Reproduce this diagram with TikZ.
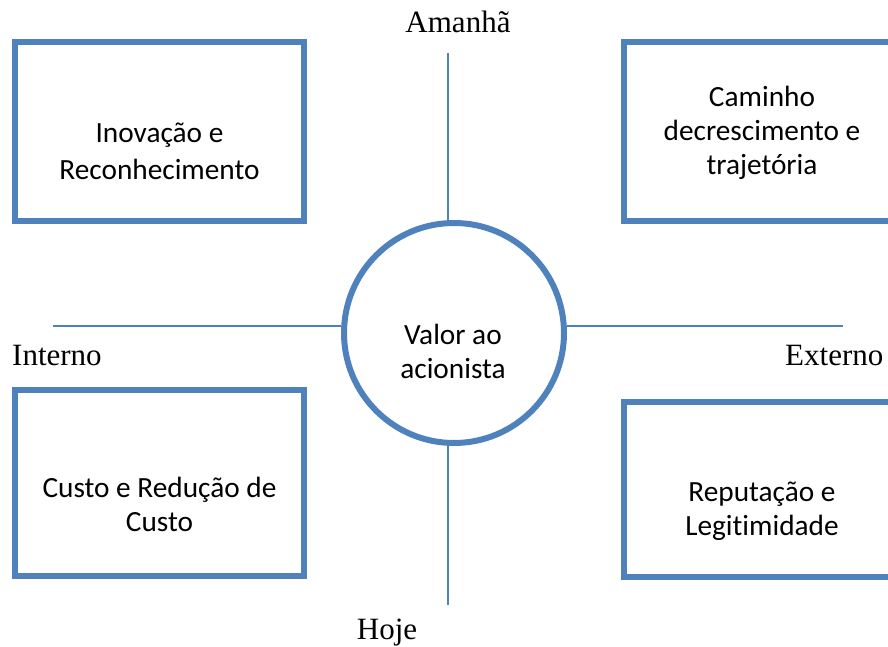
\documentclass[tikz,border=0pt]{standalone}
\usepackage{fontspec}
\setmainfont{Liberation Serif}
\newfontfamily\calib[Ligatures={NoCommon,NoRare},Contextuals=NoAlternate]{Carlito}
\usetikzlibrary{calc}
\definecolor{wordblue}{HTML}{4F81BD}

\begin{document}
\begin{tikzpicture}[x=1pt,y=1pt,
    box/.style={draw=wordblue,line width=6pt,inner sep=0pt},
    txt/.style={font=\calib\fontsize{29.3}{34}\selectfont,align=center,inner sep=0pt},
    axis/.style={wordblue,line width=1.5pt},
    side/.style={font=\fontsize{31}{36}\selectfont,inner sep=0pt}]
  \clip(0,0)rectangle(888,646);
  % the four quadrants
  \node[box,minimum width=289pt,minimum height=179pt](inov)at(159.5,514.5){};
  \node[box,minimum width=276pt,minimum height=179pt](caminho)at(762,514.5){};
  \node[box,minimum width=289pt,minimum height=186pt](custo)at(159.5,163){};
  \node[box,minimum width=276pt,minimum height=175pt](reput)at(762,156.5){};
  \node[txt](inovtxt)at(159.5,495){Inovação e\\[3pt]Reconhecimento};
  \node[txt](caminhotxt)at(762,513){Caminho\\decrescimento e\\trajetória};
  \node[txt](custotxt)at(159.5,142){Custo e Redução de\\Custo};
  \node[txt](reputtxt)at(762,135){Reputação e\\Legitimidade};
  % centre
  \node[box,circle,minimum size=220pt](valor)at(454,313){};
  \node[txt](valortxt)at(453,295){Valor ao\\acionista};
  % axes
  \coordinate(up)at(448,593);
  \coordinate(down)at(448,41);
  \coordinate(left)at(53,320);
  \coordinate(right)at(843,320);
  \draw[axis](up)--(up|-valor.north);
  \draw[axis](down)--(down|-valor.south);
  \draw[axis](left)--(left-|valor.west);
  \draw[axis](right)--(right-|valor.east);
  \node[side,anchor=base](amanha)at(458,613){Amanhã};
  \node[side,anchor=base](hoje)at(387,7){Hoje};
  \node[side,anchor=base west](interno)at(12,281){Interno};
  \node[side,anchor=base west](externo)at(785,281){Externo};
\end{tikzpicture}
\end{document}
